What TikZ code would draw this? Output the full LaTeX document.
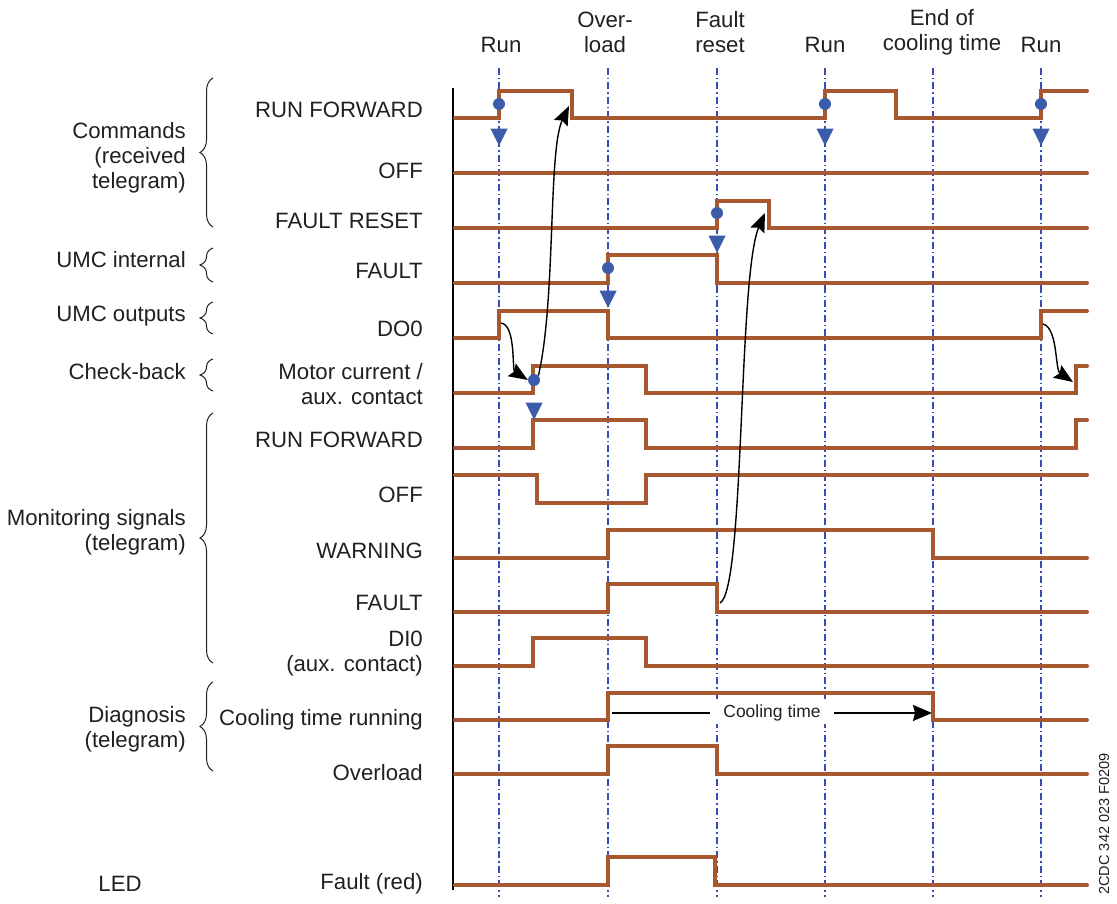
\documentclass[tikz,border=0pt]{standalone}
\usepackage{fontspec}
\setmainfont{Liberation Sans}
\usetikzlibrary{arrows.meta,decorations.pathreplacing,shapes.geometric}
\definecolor{sigc}{RGB}{168,88,46}
\definecolor{mkc}{RGB}{58,92,170}
\definecolor{dlc}{RGB}{55,75,185}
\definecolor{txt}{RGB}{35,31,32}
\begin{document}
\begin{tikzpicture}[x=1pt,y=-1pt,
  every node/.style={text=txt, font=\fontsize{22.2}{25}\selectfont, inner sep=0pt},
  sig/.style={draw=sigc, line width=4pt, line cap=round, line join=miter},
  vline/.style={draw=dlc, line width=1.3pt, dash pattern=on 7pt off 3pt on 1.5pt off 3pt},
  dotm/.style={circle, fill=mkc, minimum width=12pt, minimum height=11pt, inner sep=0pt},
  trim/.style={isosceles triangle, isosceles triangle stretches, shape border rotate=270,
     minimum width=17pt, minimum height=17pt, inner sep=0pt, fill=mkc},
  rowlab/.style={anchor=east, align=right},
  grplab/.style={anchor=east, align=right},
  toplab/.style={align=center},
  brc/.style={draw=txt, line width=1pt, decorate, decoration={brace, amplitude=13pt}},
  conn/.style={draw=black, line width=1.4pt, -{Stealth[length=19pt,width=15pt,inset=3pt]}},
  cool/.style={draw=black, line width=1.3pt, -{Stealth[length=19pt,width=16pt,inset=2pt]}}
]
\useasboundingbox (0,0) rectangle (1117,904);

% axis
\draw[black, line width=1.2pt] (453,88) -- (453,890);

% dashed event lines
\foreach \x in {499,608,717,825,933,1041} \draw[vline] (\x,68) -- (\x,897);

% top labels
\node[toplab] (tRun1) at (501,45) {Run};
\node[toplab] (tOver) at (605,32) {Over-\\load};
\node[toplab] (tFr) at (720,32) {Fault\\reset};
\node[toplab] (tRun2) at (825,45) {Run};
\node[toplab] (tEnd) at (942,32) {End of\\cooling time};
\node[toplab] (tRun3) at (1041,45) {Run};

% group labels
\node[grplab] (gCmd) at (186,158) {Commands\\(received\\telegram)};
\node[grplab] (gInt) at (186,260) {UMC internal};
\node[grplab] (gOut) at (186,316) {UMC outputs};
\node[grplab] (gChk) at (186,372) {Check-back};
\node[grplab] (gMon) at (186,532) {Monitoring signals\\(telegram)};
\node[grplab] (gDia) at (186,729) {Diagnosis\\(telegram)};
\node (gLed) at (120,884) {LED};

% braces
\draw[brc] (213,227) -- (213,78);
\draw[brc] (213,282) -- (213,248);
\draw[brc] (213,334) -- (213,302);
\draw[brc] (213,391) -- (213,359);
\draw[brc] (213,663) -- (213,413);
\draw[brc] (213,771) -- (213,682);

% row labels
\node[rowlab] (rRF) at (423,110) {RUN FORWARD};
\node[rowlab] (rOFF) at (423,171) {OFF};
\node[rowlab] (rFR) at (423,221) {FAULT RESET};
\node[rowlab] (rFLT) at (423,271) {FAULT};
\node[rowlab] (rDO) at (423,329) {DO0};
\node[rowlab] (rMC) at (423,384) {Motor current /\\aux. contact};
\node[rowlab] (rMRF) at (423,440) {RUN FORWARD};
\node[rowlab] (rMOFF) at (423,495) {OFF};
\node[rowlab] (rWRN) at (423,551) {WARNING};
\node[rowlab] (rMFLT) at (423,603) {FAULT};
\node[rowlab] (rDI) at (423,654) {DI0\\(aux. contact)};
\node[rowlab] (rCool) at (423,720) {Cooling time running};
\node[rowlab] (rOvl) at (423,773) {Overload};
\node[rowlab] (rLed) at (423,884) {Fault (red)};

% waveforms
\draw[sig] (455,118) -- (499,118) -- (499,91) -- (572,91) -- (572,118) -- (825,118) -- (825,91) -- (896,91) -- (896,118) -- (1041,118) -- (1041,91) -- (1087,91);
\draw[sig] (455,173) -- (1087,173);
\draw[sig] (455,228) -- (717,228) -- (717,201) -- (769,201) -- (769,228) -- (1087,228);
\draw[sig] (455,283) -- (608,283) -- (608,255) -- (717,255) -- (717,283) -- (1087,283);
\draw[sig] (455,338) -- (499,338) -- (499,311) -- (608,311) -- (608,338) -- (1041,338) -- (1041,311) -- (1087,311);
\draw[sig] (455,393) -- (533,393) -- (533,366) -- (646,366) -- (646,393) -- (1076,393) -- (1076,366) -- (1087,366);
\draw[sig] (455,448) -- (533,448) -- (533,420) -- (646,420) -- (646,448) -- (1076,448) -- (1076,420) -- (1087,420);
\draw[sig] (455,475) -- (537,475) -- (537,503) -- (646,503) -- (646,475) -- (1087,475);
\draw[sig] (455,558) -- (608,558) -- (608,530) -- (933,530) -- (933,558) -- (1087,558);
\draw[sig] (455,612) -- (608,612) -- (608,584) -- (717,584) -- (717,612) -- (1087,612);
\draw[sig] (455,666) -- (533,666) -- (533,638) -- (646,638) -- (646,666) -- (1087,666);
\draw[sig] (455,720) -- (608,720) -- (608,693) -- (933,693) -- (933,720) -- (1087,720);
\draw[sig] (455,774) -- (608,774) -- (608,746) -- (717,746) -- (717,774) -- (1087,774);
\draw[sig] (455,885) -- (608,885) -- (608,857) -- (715,857) -- (715,885) -- (1087,885);

% markers
\node[dotm] (d1) at (499,104) {};
\node[trim] (t1) at (499,134) {};
\node[dotm] (d2) at (825,104) {};
\node[trim] (t2) at (825,134) {};
\node[dotm] (d3) at (1041,104) {};
\node[trim] (t3) at (1041,134) {};
\node[dotm] (d4) at (717,213) {};
\node[trim] (t4) at (717,241) {};
\node[dotm] (d5) at (608,268) {};
\node[trim] (t5) at (608,296) {};
\node[dotm] (d6) at (534,380) {};
\node[trim] (t6) at (534,408) {};

% causal arrows
\coordinate (a1s) at (501,323);
\coordinate (a2e) at (569,106);
\coordinate (a3s) at (720,603);
\coordinate (a3e) at (765,213);
\coordinate (a4s) at (1043,324);
\coordinate (a4e) at (1073,382);
\draw[conn] (a1s) .. controls (516,325) and (512,370) .. (d6.west);
\draw[conn] (d6.north east) .. controls (556,300) and (548,150) .. (a2e);
\draw[conn] (a3s) .. controls (745,590) and (738,275) .. (a3e);
\draw[conn] (a4s) .. controls (1058,328) and (1055,370) .. (a4e);

% cooling time
\coordinate (cs) at (612,713);
\coordinate (ce) at (932,713);
\draw[cool] (cs) -- node[fill=white, inner xsep=13pt, inner ysep=3pt, font=\fontsize{17.5}{20}\selectfont] (cLab) {Cooling time} (ce);

% figure id
\node[rotate=90, font=\fontsize{14.5}{17}\selectfont] (fid) at (1104,824) {2CDC 342 023 F0209};
\end{tikzpicture}
\end{document}
